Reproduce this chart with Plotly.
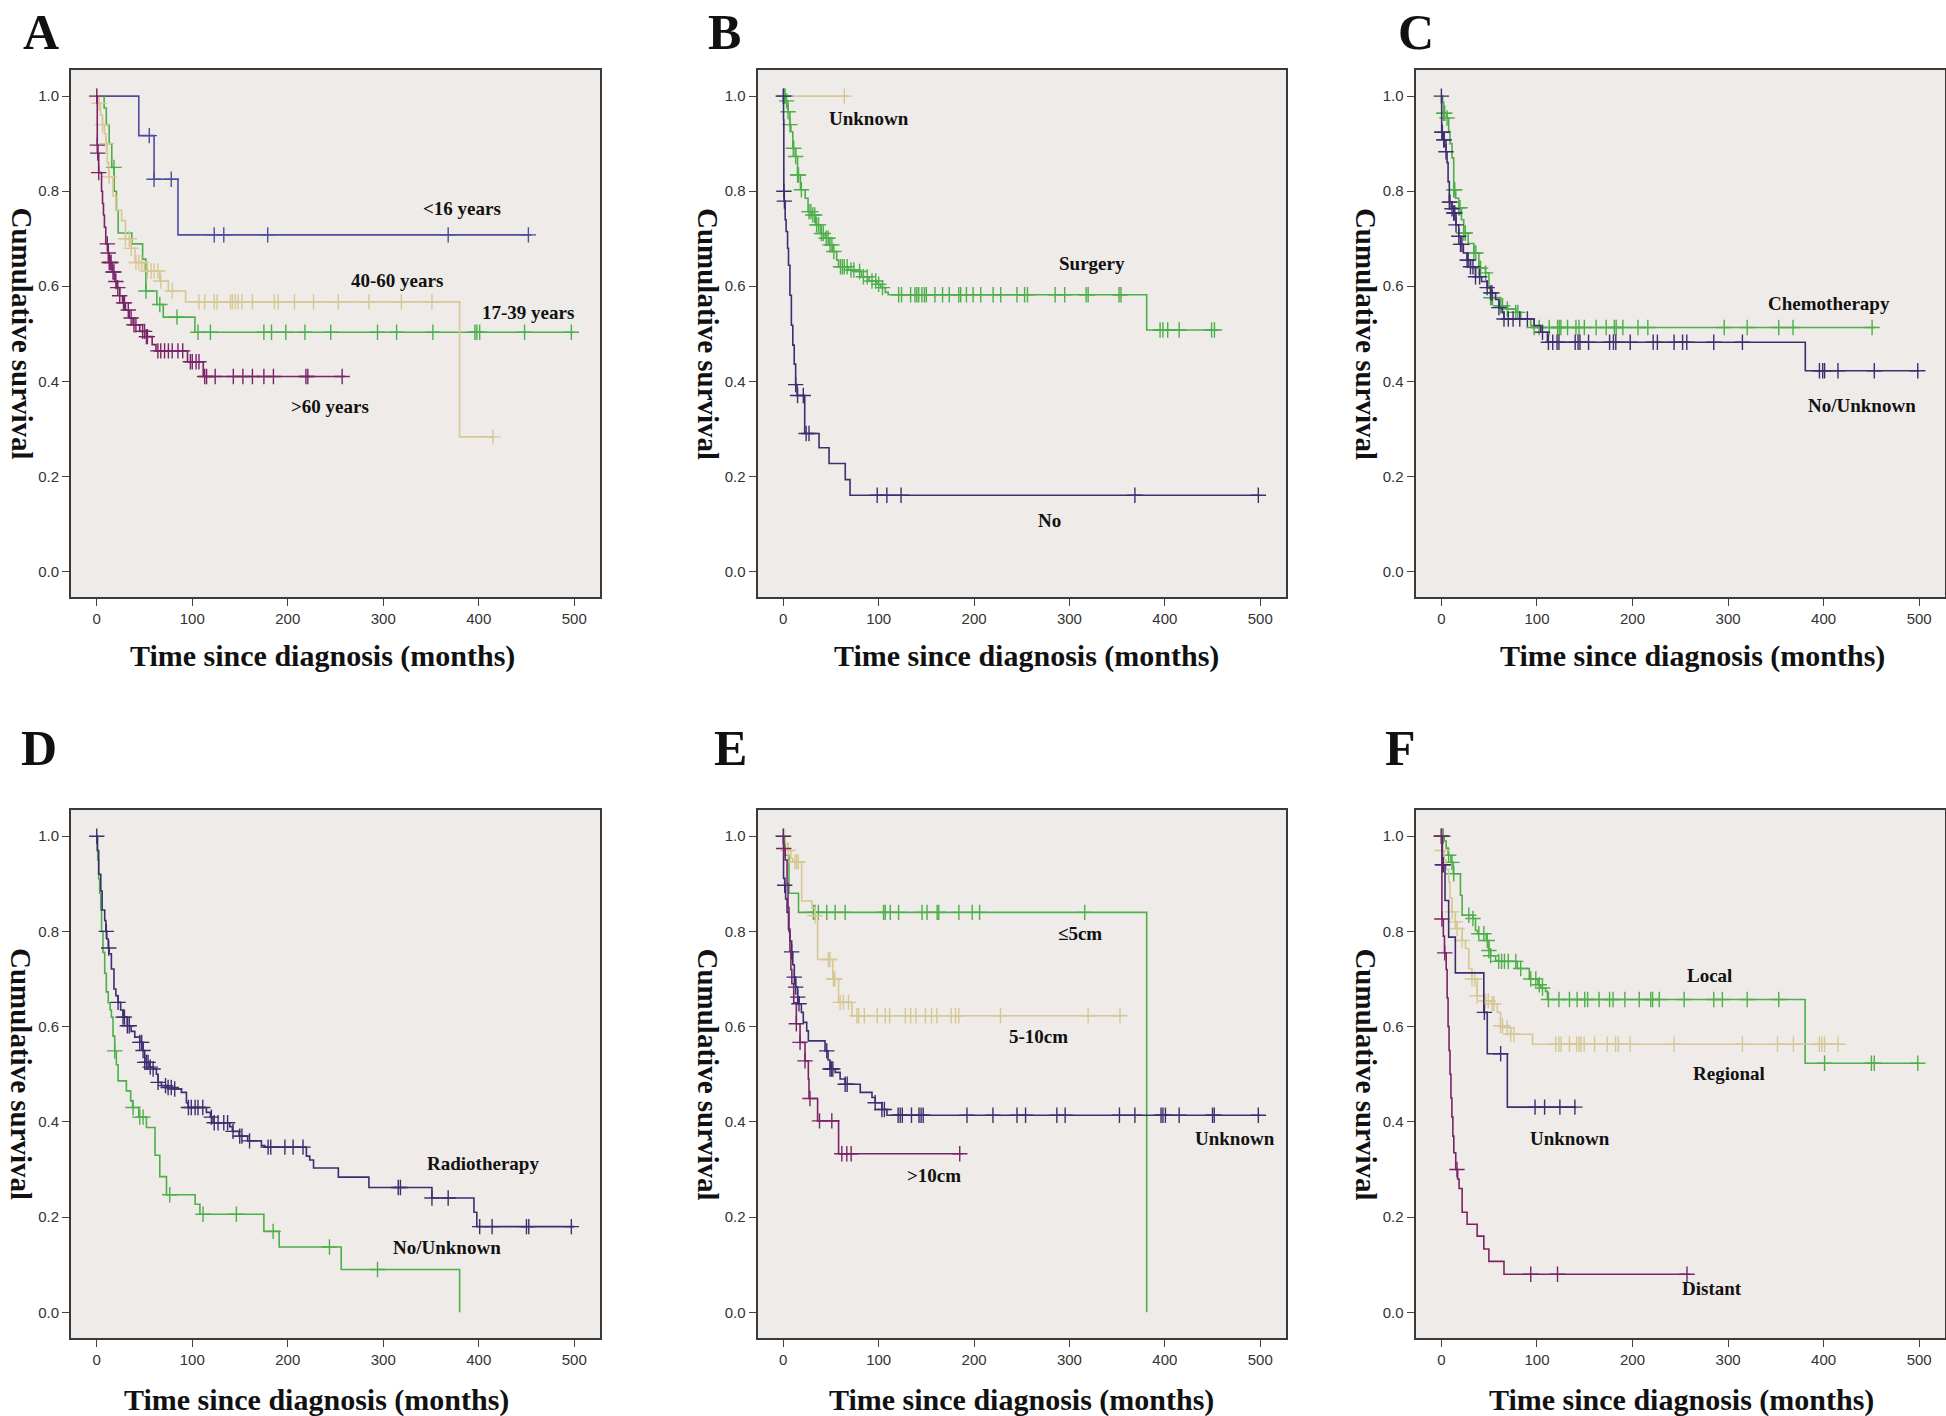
import plotly.graph_objects as go

# ---------------- DATA ----------------
# Panel A: age
A_u16_t = [44, 60, 85]
A_u16_s = [0.917, 0.825, 0.708]
A_u16_c = [55, 60, 78, 123, 133, 179, 368, 452]
A_u16_end = 455

A_1739_t = [7.7, 10, 13, 15.7, 18.2, 20.6, 22.4, 36.7, 48, 51.4, 62.9, 69.6, 102.8]
A_1739_s = [0.975, 0.94, 0.90, 0.85, 0.80, 0.76, 0.712, 0.689, 0.657, 0.59, 0.5615, 0.535, 0.503]
A_1739_c = [18, 51.5, 66, 84, 106, 119, 175, 183, 198, 218, 245, 294, 314, 352, 396, 398, 401, 448, 497]
A_1739_end = 500

A_4060_t = [1, 4, 6, 8, 9.5, 11, 12.5, 17, 20, 26, 30, 36, 40, 50, 66, 75, 93, 380]
A_4060_s = [0.985, 0.96, 0.94, 0.92, 0.90, 0.86, 0.83, 0.79, 0.76, 0.738, 0.70, 0.68, 0.65, 0.632, 0.611, 0.59, 0.567, 0.283]
A_4060_c = [0, 2.5, 6, 10, 13, 30, 34, 36, 41, 44, 47, 53, 57, 60, 64, 67, 79, 107, 113, 123, 126, 140, 142,
            145, 148, 152, 163, 186, 190, 207, 227, 253, 285, 319, 351, 415]
A_4060_end = 415

A_o60_t = [0.5, 1, 2, 5, 6, 7, 8, 9.4, 12, 13, 16, 19, 21, 24, 27, 30, 34, 38, 45, 52, 58, 62, 95, 111.5]
A_o60_s = [0.897, 0.88, 0.839, 0.80, 0.774, 0.75, 0.724, 0.689, 0.67, 0.65, 0.63, 0.61, 0.597, 0.58, 0.565,
           0.55, 0.533, 0.519, 0.505, 0.494, 0.477, 0.464, 0.441, 0.41]
A_o60_c = [0, 0.5, 1, 2, 11, 12, 13, 14, 15, 17, 18, 20, 22, 24, 28, 29, 33, 36, 39, 41, 48, 50, 52, 53, 64, 67,
           71, 75, 79, 85, 90, 98, 100, 104, 107, 113, 115, 124, 143, 153, 163, 175, 185, 219, 221, 257]
A_o60_end = 260

# Panel B: surgery
B_unk_t = []
B_unk_s = []
B_unk_c = [64]
B_unk_end = 68

B_surg_t = [3, 5, 7, 8, 10, 13, 15, 18, 23, 26, 30, 34, 39, 44, 48, 52, 56, 58, 68, 76, 82, 90, 98, 102, 107, 110, 381]
B_surg_s = [0.99, 0.967, 0.94, 0.925, 0.89, 0.873, 0.834, 0.803, 0.785, 0.757, 0.75, 0.729, 0.711, 0.701, 0.687,
            0.673, 0.655, 0.641, 0.634, 0.631, 0.62, 0.611, 0.604, 0.597, 0.587, 0.582, 0.508]
B_surg_c = [0.5, 1, 2, 3.5, 5, 7, 10.5, 11, 13, 15, 16, 19, 27, 29, 31, 33, 35, 37, 40, 42, 45, 47, 49, 51, 53, 60,
            62, 64, 67, 71, 74, 80, 84, 88, 93, 97, 100, 104, 121, 124, 133.5, 138, 140, 142, 145.3, 148, 150, 159,
            167, 174, 184, 186, 192, 199, 207, 220, 228, 245, 253, 256, 285, 295, 317.5, 319.6, 352, 354, 395, 398,
            403, 415, 449, 452]
B_surg_end = 456

B_no_t = [0.3, 0.6, 1, 2, 3, 4.5, 5.5, 7, 8.5, 10, 11.5, 13, 14.5, 22.5, 37.5, 48, 65, 70]
B_no_s = [0.95, 0.80, 0.779, 0.74, 0.715, 0.68, 0.644, 0.581, 0.518, 0.476, 0.436, 0.393, 0.370, 0.29, 0.26,
          0.227, 0.193, 0.16]
B_no_c = [0, 0.7, 1.2, 13, 15, 21, 24, 27, 98.5, 108.6, 123.5, 368.6, 498]
B_no_end = 498

# Panel C: chemotherapy
C_chemo_t = [1.3, 2.4, 5.9, 7.6, 9, 11.1, 12.9, 15, 18.2, 21, 23.4, 28, 34, 39.2, 46.2, 49.7, 51.5, 62, 69,
             77.8, 83, 93.5, 95]
C_chemo_s = [0.987, 0.964, 0.954, 0.926, 0.90, 0.87, 0.803, 0.785, 0.765, 0.74, 0.712, 0.69, 0.670, 0.638,
             0.628, 0.597, 0.576, 0.559, 0.552, 0.545, 0.531, 0.517, 0.513]
C_chemo_c = [2.4, 3.5, 5.9, 12.9, 14, 18.2, 19.5, 23.4, 25, 34, 36, 39.2, 41, 46.2, 51.5, 52.5, 53.5, 62, 64, 69,
             77.8, 80, 97, 102.3, 112.8, 121.6, 123.3, 125, 132, 140.8, 144, 149.6, 161.9, 172.4, 181, 182.9,
             189.9, 205.7, 216, 296, 320, 353, 368, 450.7]
C_chemo_end = 454

C_no_t = [0.3, 2.4, 4.8, 5.9, 7, 8.3, 11.1, 12.9, 15.3, 18.2, 20, 23, 26.9, 30.4, 35.7, 42, 47.9, 51.5, 56.7,
          60.2, 63.7, 65.5, 97, 104, 111, 380.8]
C_no_s = [0.924, 0.908, 0.883, 0.86, 0.82, 0.777, 0.763, 0.754, 0.729, 0.705, 0.688, 0.67, 0.655, 0.641, 0.62,
          0.61, 0.597, 0.586, 0.572, 0.555, 0.545, 0.531, 0.517, 0.503, 0.482, 0.422]
C_no_c = [0, 0.5, 1, 2.4, 3, 4.8, 8.3, 9, 11.1, 12.9, 14, 15.3, 18.2, 20, 21.5, 26.9, 28, 30.4, 33, 35.7, 40, 47.9,
          51.5, 53, 60.2, 65.5, 70, 75, 82, 90, 105.8, 112, 116.5, 121, 123, 140, 143, 145, 154, 176, 180, 182.5,
          197.6, 221.6, 226, 243.5, 252.4, 256.8, 285, 315, 395.6, 399, 401, 415, 453, 498.5]
C_no_end = 500

# Panel D: radiotherapy
D_radio_t = [0.5, 2, 4.2, 5.6, 8.3, 9.5, 10.5, 12, 13, 15.3, 18, 20, 22.3, 25, 27.5, 32, 36, 39.8, 45, 48.5,
             50.2, 55, 59, 62.4, 64.2, 67.7, 74, 80, 88.6, 93.9, 95.6, 114.8, 119, 121.8, 139.2, 142, 149, 158,
             172.4, 176, 219.5, 223, 227, 253, 285, 351, 395, 398]
D_radio_s = [0.97, 0.92, 0.885, 0.845, 0.823, 0.80, 0.784, 0.765, 0.753, 0.721, 0.679, 0.665, 0.651, 0.635,
             0.62, 0.602, 0.59, 0.578, 0.567, 0.55, 0.525, 0.515, 0.511, 0.5, 0.483, 0.476, 0.472, 0.469, 0.462,
             0.44, 0.430, 0.42, 0.41, 0.398, 0.39, 0.38, 0.37, 0.36, 0.35, 0.347, 0.328, 0.32, 0.303, 0.284,
             0.262, 0.24, 0.21, 0.18]
D_radio_c = [0, 10, 12.5, 22.3, 27.5, 29, 32, 34, 45, 47, 48.5, 50.2, 52, 53.7, 56, 59, 64.2, 72, 74.7, 78, 81.6,
             96, 99, 103, 106, 111, 120, 123, 127, 133, 137, 142.7, 149.7, 152, 160, 179.4, 182.2, 197, 205.6,
             216, 315.7, 318, 351, 368, 401, 414, 450, 452.4, 497]
D_radio_end = 500

D_no_t = [1, 2, 3, 4.2, 5, 6.5, 8.3, 10, 12, 14, 15.3, 17, 18.8, 20.5, 22.3, 31, 35.5, 37.5, 44, 52, 61, 66, 73,
          103, 108, 175, 191, 256, 380]
D_no_s = [0.95, 0.91, 0.88, 0.845, 0.80, 0.756, 0.712, 0.673, 0.65, 0.635, 0.62, 0.58, 0.549, 0.52, 0.486, 0.465,
          0.444, 0.43, 0.41, 0.388, 0.33, 0.285, 0.247, 0.227, 0.206, 0.17, 0.137, 0.09, 0.0]
D_no_c = [18.8, 38, 45, 48.5, 76.4, 111.3, 146.2, 184.7, 243.7, 294]
D_no_end = 380

# Panel E: tumour size
E_le5_t = [2, 6, 16, 381]
E_le5_s = [0.96, 0.88, 0.84, 0.0]
E_le5_c = [31.6, 33.3, 36.8, 45.6, 54.4, 64.9, 105.2, 106.9, 112.2, 120.9, 145.5, 150.7, 161.3, 163, 184.1,
           198.1, 205.8, 316]
E_le5_end = 381

E_510_t = [2, 5, 8, 10, 19.3, 30, 33, 36, 52, 58, 72]
E_510_s = [0.985, 0.97, 0.953, 0.946, 0.864, 0.85, 0.833, 0.741, 0.70, 0.651, 0.623]
E_510_c = [0, 1.5, 5, 12.3, 14, 15.8, 33.3, 47.3, 49, 52.6, 54, 59.6, 63, 68.4, 77.2, 79, 85, 98.5, 107, 111.5,
           128, 133.5, 139, 149, 155.4, 161, 176, 180.5, 184, 227.7, 319.6, 353]
E_510_end = 355

E_unk_t = [0.3, 1.5, 2.5, 4, 5.5, 7, 8.8, 10, 11.6, 13, 15.1, 16.5, 19, 21, 24.6, 26.3, 43.8, 47, 49, 54.4,
           59.6, 64.9, 80.7, 93, 96.4, 103.4, 108.7]
E_unk_s = [0.911, 0.897, 0.868, 0.84, 0.805, 0.78, 0.757, 0.73, 0.704, 0.683, 0.662, 0.648, 0.63, 0.609, 0.591,
           0.570, 0.549, 0.53, 0.511, 0.504, 0.490, 0.479, 0.462, 0.451, 0.44, 0.426, 0.414]
E_unk_c = [0, 1.5, 8.8, 11.6, 13, 15.1, 16.5, 45.6, 49, 50.5, 52, 64.9, 67, 96.4, 103.4, 106, 120.4, 122.6, 124.8,
           134.4, 142.3, 144.5, 146.7, 192.6, 219.8, 245, 254, 286.8, 295.5, 352.4, 368.6, 396, 398, 400.6, 415,
           450, 451.8, 498]
E_unk_end = 500

E_gt10_t = [0.5, 2, 4, 5, 6, 7, 8, 9, 11, 13.7, 17.6, 22.8, 26.3, 27, 36, 58]
E_gt10_s = [0.974, 0.95, 0.90, 0.85, 0.80, 0.76, 0.72, 0.69, 0.65, 0.606, 0.567, 0.528, 0.49, 0.449, 0.402, 0.333]
E_gt10_c = [0.5, 13.7, 17.6, 22.8, 28, 38, 50.9, 61.4, 66.6, 71.2, 185]
E_gt10_end = 188

# Panel F: stage
F_loc_t = [3, 5, 7, 10, 12.5, 19.9, 21.7, 33, 35.7, 38, 47, 49.7, 51.5, 56.7, 60, 79.5, 92, 101, 104, 109, 111,
           380.6]
F_loc_s = [0.99, 0.975, 0.96, 0.945, 0.921, 0.876, 0.834, 0.827, 0.802, 0.795, 0.781, 0.76, 0.749, 0.739, 0.737,
           0.722, 0.70, 0.688, 0.681, 0.674, 0.657, 0.523]
F_loc_c = [0.5, 2, 7.6, 11.1, 12.9, 28.7, 33, 39.2, 44.4, 48, 49.7, 51.5, 60, 63, 66, 70, 77.8, 83, 93.5, 98.8,
           102.4, 105.8, 112, 123, 134, 142, 150, 153, 165, 176, 179.6, 192, 207, 219, 221, 228, 254, 285, 294,
           320, 353, 401, 450, 453, 498.5]
F_loc_end = 500

F_reg_t = [0.5, 3, 5, 7.6, 9, 11.1, 14.6, 16.4, 21.7, 25.2, 28.7, 32, 37.4, 46, 53.2, 58.5, 61.9, 68.9, 72.5, 95.3]
F_reg_s = [0.97, 0.95, 0.93, 0.904, 0.87, 0.841, 0.82, 0.806, 0.781, 0.764, 0.722, 0.70, 0.665, 0.654, 0.648,
           0.63, 0.602, 0.598, 0.584, 0.563]
F_reg_c = [1, 11.1, 14.6, 16.4, 21.7, 32, 35, 37.4, 46, 49, 53.2, 55, 61.9, 64, 68.9, 72.5, 76, 119.6, 123, 125.3,
           134, 141.5, 144, 146, 149.4, 160.3, 173.5, 182.3, 185.3, 197.5, 243.5, 315, 351.7, 368.4, 395.5, 398,
           401, 415]
F_reg_end = 418

F_unk_t = [1, 3.8, 7.6, 14.6, 44.4, 48, 69]
F_unk_s = [0.94, 0.865, 0.788, 0.713, 0.63, 0.543, 0.431]
F_unk_c = [0, 1, 2, 45, 62, 98, 108, 124, 139.7]
F_unk_end = 141

F_dis_t = [0.5, 2, 3.2, 5, 6, 7, 8, 9, 10, 11, 12, 13, 15, 17, 18.5, 21.7, 26.9, 37.4, 44.4, 49.7, 65.5]
F_dis_s = [0.826, 0.79, 0.755, 0.72, 0.66, 0.60, 0.55, 0.50, 0.45, 0.41, 0.37, 0.335, 0.30, 0.28, 0.26, 0.21,
           0.185, 0.16, 0.133, 0.107, 0.08]
F_dis_c = [0, 0.5, 3.5, 16.3, 93.5, 121.5, 257]
F_dis_end = 260

panel_letters = ["A", "B", "C", "D", "E", "F"]
x_ticks = [0, 100, 200, 300, 400, 500]
y_ticks = [0.0, 0.2, 0.4, 0.6, 0.8, 1.0]
x_title = "Time since diagnosis (months)"
y_title = "Cumulative survival"

# ---------------- STYLE ----------------
BLUE = "#4C4F9E"
NAVY = "#3E2E70"
GREEN = "#4DAF4A"
TAN = "#D6C894"
MAG = "#7A2468"
BG = "#EFEBE8"

# series: (panel index, times, survivals, censor times, end, colour, label, label_x, label_y)
series = [
    (0, A_u16_t, A_u16_s, A_u16_c, A_u16_end, BLUE, "&lt;16 years", 382, 0.764),
    (0, A_1739_t, A_1739_s, A_1739_c, A_1739_end, GREEN, "17-39 years", 452, 0.545),
    (0, A_4060_t, A_4060_s, A_4060_c, A_4060_end, TAN, "40-60 years", 314, 0.612),
    (0, A_o60_t, A_o60_s, A_o60_c, A_o60_end, MAG, "&gt;60 years", 244, 0.347),
    (1, B_unk_t, B_unk_s, B_unk_c, B_unk_end, TAN, "Unknown", 90, 0.953),
    (1, B_surg_t, B_surg_s, B_surg_c, B_surg_end, GREEN, "Surgery", 324, 0.647),
    (1, B_no_t, B_no_s, B_no_c, B_no_end, NAVY, "No", 279, 0.108),
    (2, C_chemo_t, C_chemo_s, C_chemo_c, C_chemo_end, GREEN, "Chemotherapy", 406, 0.563),
    (2, C_no_t, C_no_s, C_no_c, C_no_end, NAVY, "No/Unknown", 440, 0.349),
    (3, D_no_t, D_no_s, D_no_c, D_no_end, GREEN, "No/Unknown", 367, 0.137),
    (3, D_radio_t, D_radio_s, D_radio_c, D_radio_end, NAVY, "Radiotherapy", 404, 0.312),
    (4, E_le5_t, E_le5_s, E_le5_c, E_le5_end, GREEN, "≤5cm", 311, 0.796),
    (4, E_510_t, E_510_s, E_510_c, E_510_end, TAN, "5-10cm", 268, 0.58),
    (4, E_unk_t, E_unk_s, E_unk_c, E_unk_end, NAVY, "Unknown", 474, 0.365),
    (4, E_gt10_t, E_gt10_s, E_gt10_c, E_gt10_end, MAG, "&gt;10cm", 158, 0.288),
    (5, F_loc_t, F_loc_s, F_loc_c, F_loc_end, GREEN, "Local", 281, 0.707),
    (5, F_reg_t, F_reg_s, F_reg_c, F_reg_end, TAN, "Regional", 301, 0.502),
    (5, F_unk_t, F_unk_s, F_unk_c, F_unk_end, NAVY, "Unknown", 135, 0.365),
    (5, F_dis_t, F_dis_s, F_dis_c, F_dis_end, MAG, "Distant", 283, 0.05),
]

W, H = 1946, 1416
col_px = [(71, 600), (757.5, 1286), (1415.6, 1945)]
row_px = [(70, 597), (810, 1338)]
xtitle_px = [322, 1026, 1692, 316, 1022, 1681]
letter_px = [21, 706, 1396, 19, 712, 1383]
letter_y_px = [32, 748]


def surv_at(ts, ss, t):
    v = 1.0
    for ti, si in zip(ts, ss):
        if ti <= t:
            v = si
    return v


fig = go.Figure()
layout = dict(width=W, height=H, margin=dict(l=0, r=0, t=0, b=0),
              paper_bgcolor="white", plot_bgcolor=BG, showlegend=False)
annotations = []

for p in range(6):
    r, c = divmod(p, 3)
    x0, x1 = col_px[c]
    y0, y1 = row_px[r]
    sfx = "" if p == 0 else str(p + 1)
    layout["xaxis" + sfx] = dict(
        domain=[x0 / W, x1 / W], range=[-27, 527], anchor="y" + sfx,
        tickvals=x_ticks, ticks="outside", ticklen=7, tickwidth=1, tickcolor="#444",
        showline=True, mirror=True, linecolor="#3a3a3a", linewidth=2,
        showgrid=False, zeroline=False,
        tickfont=dict(family="Liberation Sans", size=15, color="#333"))
    layout["yaxis" + sfx] = dict(
        domain=[1 - y1 / H, 1 - y0 / H], range=[-0.054, 1.055], anchor="x" + sfx,
        tickvals=y_ticks, ticktext=["%.1f" % v for v in y_ticks],
        ticks="outside", ticklen=7, tickwidth=1, tickcolor="#444",
        showline=True, mirror=True, linecolor="#3a3a3a", linewidth=2,
        showgrid=False, zeroline=False,
        tickfont=dict(family="Liberation Sans", size=15, color="#333"))
    # panel letter
    annotations.append(dict(x=letter_px[p] / W, y=1 - letter_y_px[r] / H, xref="paper", yref="paper",
                            xanchor="left", yanchor="middle", showarrow=False,
                            text="<b>%s</b>" % panel_letters[p],
                            font=dict(family="Liberation Serif", size=50, color="#111")))
    # axis titles
    annotations.append(dict(x=xtitle_px[p] / W, y=1 - (656 + r * 744) / H, xref="paper", yref="paper",
                            xanchor="center", yanchor="middle", showarrow=False,
                            text="<b>%s</b>" % x_title,
                            font=dict(family="Liberation Serif", size=30, color="#111")))
    annotations.append(dict(x=(x0 - 50) / W, y=1 - ((y0 + y1) / 2) / H, xref="paper", yref="paper",
                            xanchor="center", yanchor="middle", showarrow=False, textangle=90,
                            text="<b>%s</b>" % y_title,
                            font=dict(family="Liberation Serif", size=29, color="#111")))

for (p, ts, ss, cs, end, col, lab, lx, ly) in series:
    sfx = "" if p == 0 else str(p + 1)
    xs = [0] + list(ts) + [end]
    ys = [1.0] + list(ss) + [ss[-1] if ss else 1.0]
    fig.add_trace(go.Scatter(x=xs, y=ys, mode="lines", line=dict(color=col, width=1.6, shape="hv"),
                             xaxis="x" + sfx, yaxis="y" + sfx, hoverinfo="skip"))
    fig.add_trace(go.Scatter(x=cs, y=[surv_at(ts, ss, t) for t in cs], mode="markers",
                             marker=dict(symbol="cross-thin", size=11, color=col,
                                         line=dict(color=col, width=1.4)),
                             xaxis="x" + sfx, yaxis="y" + sfx, hoverinfo="skip"))
    annotations.append(dict(x=lx, y=ly, xref="x" + sfx, yref="y" + sfx, showarrow=False,
                            xanchor="center", yanchor="middle", text="<b>%s</b>" % lab,
                            font=dict(family="Liberation Serif", size=19, color="#111")))

layout["annotations"] = annotations
fig.update_layout(**layout)
fig.write_html("out.html", config={"displayModeBar": False},
               post_script="document.body.style.margin='0';document.documentElement.style.overflow='hidden';")
